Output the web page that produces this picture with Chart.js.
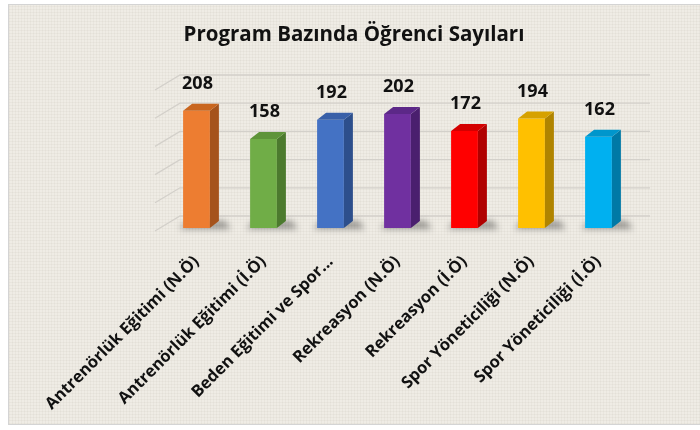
<!DOCTYPE html>
<html>
<head>
<meta charset="utf-8">
<script src="https://cdn.jsdelivr.net/npm/chart.js@4.4.1/dist/chart.umd.min.js"></script>
<style>
  html, body { margin: 0; padding: 0; background: #fff; }
  #wrap { position: relative; width: 700px; height: 430px; overflow: hidden; }
  #panel {
    position: absolute; left: 8px; top: 4px; width: 700px; height: 419px;
    border: 1px solid #d4d4d4;
    background-color: #efece5;
    background-image:
      repeating-linear-gradient(0deg, rgba(120,110,90,0.05) 0 1px, transparent 1px 3px),
      repeating-linear-gradient(90deg, rgba(120,110,90,0.05) 0 1px, transparent 1px 3px);
  }
  canvas { position: absolute; left: 0; top: 0; }
</style>
</head>
<body>
<div id="wrap">
  <div id="panel"></div>
  <canvas id="chart" width="700" height="430"></canvas>
</div>
<script>
const title = 'Program Bazında Öğrenci Sayıları';
const categories = [
  'Antrenörlük Eğitimi (N.Ö)',
  'Antrenörlük Eğitimi (İ.Ö)',
  'Beden Eğitimi ve Spor...',
  'Rekreasyon (N.Ö)',
  'Rekreasyon (İ.Ö)',
  'Spor Yöneticiliği (N.Ö)',
  'Spor Yöneticiliği (İ.Ö)'
];
const students = [208, 158, 192, 202, 172, 194, 162];
const gridTicks = [0, 50, 100, 150, 200, 250];

const frontColors = ['#ED7D31', '#70AD47', '#4472C4', '#7030A0', '#FF0000', '#FFC000', '#00B0F0'];
const sideColors  = ['#A5531C', '#4C7A2E', '#2D4F8C', '#4A1F6E', '#B00000', '#B08400', '#0079A6'];
const topColors   = ['#C9661F', '#5E9439', '#3960A8', '#5C2888', '#D40000', '#D6A100', '#0096CC'];

const FONT = '"Open Sans", sans-serif';
const DX = 9, DY = 7;

const decor = {
  id: 'decor',
  beforeDatasetsDraw(chart) {
    const {ctx, chartArea} = chart;
    const y = chart.scales.y;
    ctx.save();
    // back wall and side wall grid lines
    ctx.strokeStyle = '#d3d0ca';
    ctx.lineWidth = 1.3;
    gridTicks.forEach(v => {
      const yb = y.getPixelForValue(v) - 12;
      ctx.beginPath();
      ctx.moveTo(chartArea.right + 18, yb);
      ctx.lineTo(chartArea.left + 17, yb);
      ctx.lineTo(chartArea.left - 8, yb + 15);
      ctx.stroke();
    });
    // soft shadows under the bars
    const meta = chart.getDatasetMeta(0);
    ctx.filter = 'blur(3px)';
    ctx.fillStyle = 'rgba(0,0,0,0.35)';
    meta.data.forEach(bar => {
      const left = bar.x - bar.width / 2;
      const right = bar.x + bar.width / 2;
      ctx.beginPath();
      ctx.moveTo(left - 4, bar.base + 1);
      ctx.lineTo(right + DX + 12, bar.base + 1);
      ctx.lineTo(right + DX + 6, bar.base - DY);
      ctx.lineTo(left + 4, bar.base - DY);
      ctx.closePath();
      ctx.fill();
    });
    ctx.filter = 'none';
    ctx.restore();
  },
  afterDatasetsDraw(chart) {
    const {ctx} = chart;
    const meta = chart.getDatasetMeta(0);
    ctx.save();
    meta.data.forEach((bar, i) => {
      const left = bar.x - bar.width / 2;
      const right = bar.x + bar.width / 2;
      // side face
      ctx.fillStyle = sideColors[i];
      ctx.beginPath();
      ctx.moveTo(right, bar.y);
      ctx.lineTo(right + DX, bar.y - DY);
      ctx.lineTo(right + DX, bar.base - DY);
      ctx.lineTo(right, bar.base);
      ctx.closePath();
      ctx.fill();
      // top face
      ctx.fillStyle = topColors[i];
      ctx.beginPath();
      ctx.moveTo(left, bar.y);
      ctx.lineTo(left + DX, bar.y - DY);
      ctx.lineTo(right + DX, bar.y - DY);
      ctx.lineTo(right, bar.y);
      ctx.closePath();
      ctx.fill();
      // value label
      ctx.fillStyle = '#111';
      ctx.font = 'bold 18px ' + FONT;
      ctx.textAlign = 'center';
      ctx.textBaseline = 'alphabetic';
      ctx.fillText(String(students[i]), bar.x + 1, bar.y - 22);
    });
    // title
    ctx.font = 'bold 20.5px ' + FONT;
    ctx.fillStyle = '#111';
    ctx.textAlign = 'center';
    ctx.fillText(title, 354, 41);
    ctx.restore();
  }
};

new Chart(document.getElementById('chart'), {
  type: 'bar',
  data: {
    labels: categories,
    datasets: [{
      data: students,
      backgroundColor: frontColors,
      borderWidth: 0,
      barPercentage: 0.4,
      categoryPercentage: 1
    }]
  },
  options: {
    responsive: false,
    animation: false,
    layout: { padding: { left: 163, right: 68, top: 87, bottom: 0 } },
    plugins: {
      legend: { display: false },
      title: { display: false },
      tooltip: { enabled: false }
    },
    scales: {
      x: {
        grid: { display: false, drawTicks: false },
        border: { display: false },
        ticks: {
          autoSkip: false,
          minRotation: 45,
          maxRotation: 45,
          padding: 24,
          color: '#111',
          font: { family: FONT, size: 16.5, weight: 'bold' }
        },
        afterFit(scale) { scale.height = 202; }
      },
      y: {
        display: false,
        min: 0,
        max: 250
      }
    }
  },
  plugins: [decor]
});
</script>
</body>
</html>
